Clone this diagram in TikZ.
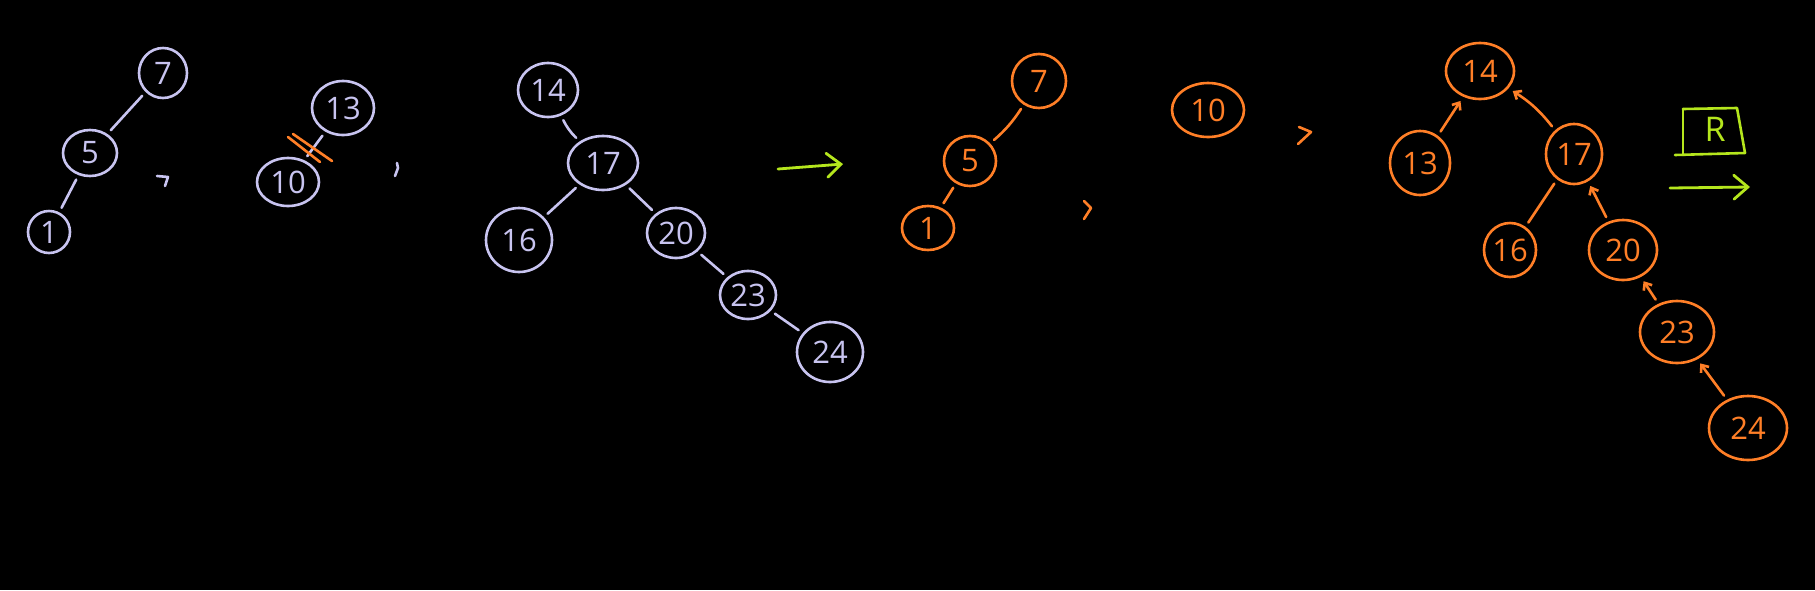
\documentclass[tikz,border=0pt]{standalone}
\usepackage{fontspec}
\newfontfamily\hand{Open Sans}
\usetikzlibrary{shapes.geometric,arrows.meta}
\definecolor{lav}{RGB}{200,196,240}
\definecolor{org}{RGB}{255,127,39}
\definecolor{grn}{RGB}{181,230,29}
\tikzset{
  nd/.style={ellipse, inner sep=0pt, line width=2.6pt, font=\hand\fontsize{31}{31}\selectfont},
  lv/.style={nd, draw=lav, text=lav},
  og/.style={nd, draw=org, text=org},
  le/.style={draw=lav, line width=2.6pt, line cap=round, shorten <=5pt, shorten >=5pt},
  oe/.style={draw=org, line width=2.6pt, line cap=round, shorten <=5pt, shorten >=5pt},
  oa/.style={oe, -{Straight Barb[length=6pt,width=10pt]}},
  strk/.style={line width=2.6pt, line cap=round, line join=round},
  ga/.style={draw=grn, line width=2.8pt, line cap=round, -{Straight Barb[length=14pt,width=24pt,line cap=round]}},
}
\begin{document}
\begin{tikzpicture}[x=1pt,y=-1pt]
\fill[black] (0,0) rectangle (1815,590);
\useasboundingbox (0,0) rectangle (1815,590);

% ---- tree 1 (lavender)
\node[lv, minimum width=48pt, minimum height=50pt] (a7) at (163,73) {7};
\node[lv, minimum width=54pt, minimum height=46pt] (a5) at (90,153) {5};
\node[lv, minimum width=42pt, minimum height=42pt] (a1) at (49,232) {1};
\draw[le] (a7) -- (a5);
\draw[le] (a5) -- (a1);
\draw[lav, strk] (157,176) -- (168,177) -- (165,186);

% ---- tree 2
\node[lv, minimum width=62pt, minimum height=54pt] (b13) at (343,108) {13};
\node[lv, minimum width=62pt, minimum height=48pt] (b10) at (288,182) {10};
\draw[le] (b13) -- (b10);
\draw[org, strk] (288,137) -- (320,162);
\draw[org, strk] (293,134) -- (332,161);
\draw[lav, strk] (397,163) -- (398,168) -- (395,176);

% ---- tree 3
\node[lv, minimum width=60pt, minimum height=54pt] (c14) at (548,90) {14};
\node[lv, minimum width=70pt, minimum height=54pt] (c17) at (603,163) {17};
\node[lv, minimum width=66pt, minimum height=64pt] (c16) at (519,240) {16};
\node[lv, minimum width=58pt, minimum height=50pt] (c20) at (676,233) {20};
\node[lv, minimum width=56pt, minimum height=48pt] (c23) at (748,295) {23};
\node[lv, minimum width=66pt, minimum height=60pt] (c24) at (830,352) {24};
\draw[le] (c14) to[bend right=10] (c17);
\draw[le] (c17) -- (c16);
\draw[le] (c17) -- (c20);
\draw[le] (c20) -- (c23);
\draw[le] (c23) -- (c24);

% ---- green arrow
\coordinate (g1s) at (778,169);
\coordinate (g1e) at (843,164);
\draw[ga] (g1s) -- (g1e);

% ---- orange tree 1
\node[og, minimum width=54pt, minimum height=54pt] (d7) at (1039,81) {7};
\node[og, minimum width=52pt, minimum height=50pt] (d5) at (970,161) {5};
\node[og, minimum width=52pt, minimum height=44pt] (d1) at (928,228) {1};
\draw[oe] (d7) to[bend left=8] (d5);
\draw[oe] (d5) -- (d1);
\draw[org, strk] (1084,201) -- (1091,208) -- (1084,219);

% ---- orange 10
\node[og, minimum width=72pt, minimum height=54pt] (e10) at (1208,110) {10};
\draw[org, strk] (1299,127) -- (1311,132) -- (1298,144);

% ---- orange tree 3
\node[og, minimum width=68pt, minimum height=56pt] (f14) at (1480,71) {14};
\node[og, minimum width=60pt, minimum height=64pt] (f13) at (1420,163) {13};
\node[og, minimum width=56pt, minimum height=60pt] (f17) at (1574,154) {17};
\node[og, minimum width=52pt, minimum height=54pt] (f16) at (1510,250) {16};
\node[og, minimum width=68pt, minimum height=60pt] (f20) at (1623,250) {20};
\node[og, minimum width=74pt, minimum height=62pt] (f23) at (1677,332) {23};
\node[og, minimum width=78pt, minimum height=64pt] (f24) at (1748,428) {24};
\draw[oa] (f13) -- (f14);
\draw[oa] (f17) to[bend right=10] (f14);
\draw[oe] (f16) -- (f17);
\draw[oa] (f20) -- (f17);
\draw[oa] (f23) -- (f20);
\draw[oa] (f24) -- (f23);

% ---- R box and arrow
\node[text=grn, font=\hand\fontsize{34}{34}\selectfont] (R) at (1715,129) {R};
\draw[grn, strk] (1683,109) -- (1737,108) -- (1745,153) -- (1675,155);
\draw[grn, strk] (1683,109) -- (1683,155);
\coordinate (g2s) at (1670,188);
\coordinate (g2e) at (1750,187);
\draw[ga] (g2s) -- (g2e);
\end{tikzpicture}
\end{document}
